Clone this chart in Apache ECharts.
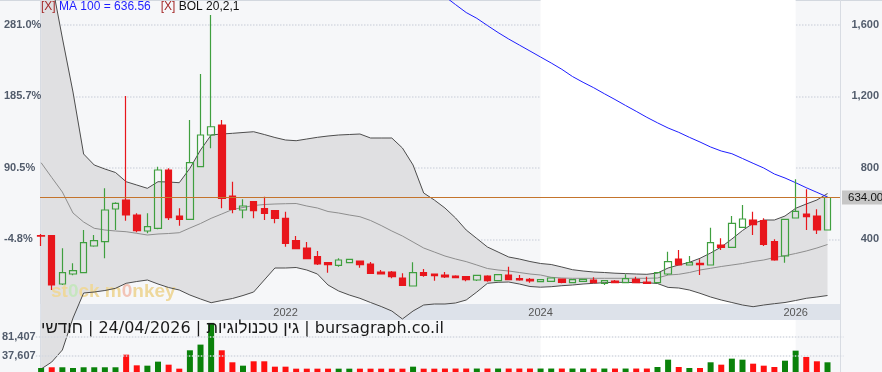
<!DOCTYPE html>
<html>
<head>
<meta charset="utf-8">
<script src="https://cdn.jsdelivr.net/npm/echarts@6/dist/echarts.min.js"></script>
<style>
html,body{margin:0;padding:0;background:#f6f7f9;}
#c{width:882px;height:372px;}
</style>
</head>
<body>
<div id="c"></div>
<script>
// ---------------- DATA ----------------
const FIRST_MONTH = [2020, 2]; // first monthly candle: Feb 2020
const OPEN = [420,420,149.5,205.5,212.8,362.3,386.4,569.5,619.9,535.9,446.3,461.4,787.9,530.3,511.8,806.4,983.9,1039.9,642.3,563.9,610.4,571.2,560,517.4,392,351.1,302.4,268.8,254.2,268.8,278.3,261.5,216.7,216.7,183.1,138.3,212.8,205.5,199.9,194.3,190.4,171.9,194.3,168,199.9,179.2,175.8,162.4,164.6,177.5,156.8,164.6,171.9,153.4,166.3,156.8,175.8,160.7,156.8,205.5,289.5,255.9,265.4,255.9,367.9,355,467,507.9,504,386.4,306.3,519.1,541.5,530.3,451.9];
const CLOSE = [418,144,212.8,224,380.8,392,563.9,601.4,535.9,448,470.4,787.9,520.8,511.8,828.8,983.9,1030.3,629.4,567.8,586.3,560,545.4,517.4,377.4,347.2,291.2,261.5,257.6,283.9,287.8,257.6,209.4,205.5,190.4,142.2,212.8,198.2,196,188.7,184.8,173.6,198.2,168,201.6,173.6,171.9,166.3,173.6,183.1,159,173.6,175.8,156.8,168,156.8,179.2,156.8,153.4,212.8,274.4,255.9,268.8,257.6,380.8,355,489.4,513.5,481.6,371.8,283.9,511.8,556.6,526.4,451.9,634];
const LOW = [362,116,143.9,198.2,212.8,358.4,293.4,451.9,504,439,433.4,455.8,507.9,476,511.8,806.4,909.4,573.4,545.4,517.4,517.4,507.9,489.4,358.4,347.2,287.8,255.9,212.8,246.4,266,240.8,209.4,205.5,181.4,142.2,138.3,190.4,168,183.1,181.4,164.6,166.3,162.4,164.6,171.9,168,156.8,161,163,153.4,155,163,153.4,143.9,153.4,155,153.4,153.4,155,199.9,255,255,199.9,255,339.9,355,465,423.9,362.3,280,268.8,517,451.9,429.5,451.9];
const HIGH = [429,422,349.4,265.4,451.9,423.9,685.4,607,1202.3,545.4,545.4,806.4,797.4,573.4,1067.9,1325.5,1655.8,1067.9,722.4,623.8,612,638.4,563.9,554.4,418.3,384.7,334.3,268.8,293.4,290,278.3,272.7,227.9,222.3,209.4,271,233.5,205.5,216.7,198.2,194.3,201.6,198.2,205.5,246.4,199.9,183.1,175,185,179,175,177,187,170,171.9,203.8,190.4,190.4,216.7,330.4,339.9,306.3,287.8,464.8,405.4,530.3,591.9,554.4,517.4,399.8,513,735.8,679.8,567.8,638.4];
const VOLUME = [9250,10900,10900,9300,10900,10900,10900,10900,40000,15400,14600,23900,16900,7700,50100,63200,113300,50100,22400,14600,24700,24700,12300,12300,7700,7700,7700,7700,7700,7700,7700,7700,7700,7700,7700,12300,7700,7700,8000,8000,8000,8000,8000,8000,8000,8000,8000,8000,8000,8000,8000,8000,8000,8000,8000,8000,8000,8000,11560,28450,11560,9250,9250,22400,16900,30800,28450,19200,14600,11560,26100,49250,34700,24700,22400];
const FIRST_VOLUME_UP = true; // first volume bar is drawn green in the source
const BOL_UPPER = [2076,1840.6,1527,1224.6,877.5,815.9,793.5,773.9,722.4,703.9,685.4,722.4,720.7,716.8,797.4,899.9,983.9,989.5,993.4,997.9,1002.3,986.7,969.9,955.9,952,961.5,971,978.3,983.9,986.7,989.5,967.1,967.1,967.1,911.1,815.9,659.1,619.9,575.1,519.1,451.9,404.3,356.7,328.7,300.7,289.5,275.5,264.3,258.7,244.7,229.6,222.3,216.7,213.9,210,207.8,205.5,203.8,211.1,239.1,255.9,271,293.4,323.1,356.7,401.5,449.1,489.4,507.9,507.9,530.3,573.4,597.5,619.9,656.3];
const BOL_MIDDLE = [828.8,745.9,664.7,547.1,496.7,461.4,451.9,446.3,442.4,433.4,423.9,429.5,432.3,436.8,463.1,488.3,517.4,541.5,566.7,577.9,589.1,594.7,597.5,599.2,600.3,586.3,575.1,555.5,547.1,535.9,526.4,505.1,477.1,446.3,418.3,384.7,351.1,328.7,306.3,289.5,274.9,255.9,236.3,227.9,222.3,213.9,205.5,199.9,187,183.1,181.4,181.4,181.4,181.4,181.4,181.4,181.4,181.4,183.1,199.9,203.8,213.9,227.9,237.4,247.5,255.9,264.3,275.5,283.9,297.9,308,320.3,334.3,351.1,370.7];
const BOL_LOWER = [-326.5,-287.3,-220.1,-40.9,99.1,104.7,113.1,125.4,153.4,163.5,171.9,149.5,129.9,115.9,87.9,65.5,44.8,57.1,68.3,85.1,104.7,171.9,239.1,239.1,241.9,227.9,205.5,143.9,110.3,87.9,69.4,45.9,23.5,-1.7,-46.5,-1.7,31.9,37.5,37.5,43.1,59.9,104.7,153.4,159,160.7,149.5,135.5,131.6,134.4,140,143.9,149.5,153.4,156.8,159,158.5,157.4,156.8,152.3,130.5,127.1,115.9,97.4,76.7,59.9,45.9,31.9,22.4,31.9,39.2,45.9,57.1,69.4,76.7,85.1];
const MA100_START = 38; // index of first MA value (earlier values are off the chart)
const MA100_VALUES = [1759.4,1714.1,1669.8,1637.4,1597.1,1557.8,1521.5,1487.8,1454.3,1420.6,1387.1,1351.8,1311.5,1279,1248.7,1215.1,1182.7,1149.1,1116.6,1083,1052.2,1023.1,999,971,944.7,916.7,894.3,879.2,852.3,825.4,799.1,765.5,743.1,716.8,688.8,663,636.56];
const PRICE_TICKS_INTERVAL = 400;
const PCT_BASE = 420;
const VOL_LABELS = [37607, 81407];
const YEAR_LABELS = ['2022-01', '2024-01', '2026-01'];
const SHADE_FROM = '2024-01', SHADE_TO = '2026-01';
const TITLE_PARTS = ['חודשי', '24/04/2026', 'גין טכנולוגיות', 'bursagraph.co.il'];
const BOL_NAME = 'BOL 20,2,1';

// ---------------- LAYOUT ----------------
const W = 882, H = 372;
const PLOT_L = 40, PLOT_R = 840;
const PRICE_MAX = 1740, PRICE_ZERO_Y = 310.7;
const PX = PRICE_ZERO_Y / PRICE_MAX;
const A_MIN = -(H - PRICE_ZERO_Y) / PX;
const CAT_W = 10.627, CAT_LEFT = 35.8;
const VOL_TOP = 320, VOL_MAX = 120000;
const BAND_TOP = 304, BAND_BOTTOM = 320;
const FONT = '"Liberation Sans", Arial, sans-serif';
const AXIS_COLOR = '#525c6c';

// ---------------- TABLES ----------------
const MONTHS = OPEN.map((_, i) => {
  const t = FIRST_MONTH[0] * 12 + (FIRST_MONTH[1] - 1) + i;
  return Math.floor(t / 12) + '-' + String(t % 12 + 1).padStart(2, '0');
});
const CATS = MONTHS.concat(['']);
const CANDLES = OPEN.map((o, i) => [o, CLOSE[i], LOW[i], HIGH[i]]);
const BOL_WIDTH = BOL_UPPER.map((u, i) => u - BOL_LOWER[i]);
const MA100 = MONTHS.map((_, i) => i < MA100_START ? null : MA100_VALUES[i - MA100_START]);
const MA_LAST = MA100_VALUES[MA100_VALUES.length - 1];
const LAST = CLOSE[CLOSE.length - 1];
const VOL_UP = CLOSE.map((c, i) => i === 0 ? FIRST_VOLUME_UP : c >= CLOSE[i - 1]);
const VOL_DATA = VOLUME.map((v, i) => ({ value: v, itemStyle: { color: VOL_UP[i] ? '#0a820a' : '#ff1010' } }));
const GRID_A_W = CATS.length * CAT_W;
const isHeb = s => /[\u0590-\u05FF]/.test(s);
const TITLE_RICH = TITLE_PARTS.map(p => '{' + (isHeb(p) ? 'h' : 'l') + '|' + p + '}').join('{l| | }');

const chart = echarts.init(document.getElementById('c'), null, { renderer: 'canvas', width: W, height: H });

const lineBase = { type: 'line', xAxisIndex: 0, yAxisIndex: 0, symbol: 'none', showSymbol: false, silent: true, animation: false };

chart.setOption({
  animation: false,
  backgroundColor: '#f6f7f9',
  textStyle: { fontFamily: FONT },
  grid: [
    { left: CAT_LEFT, top: 0, width: GRID_A_W, height: H, outerBoundsMode: 'none', containLabel: false },
    { left: PLOT_L, top: 0, width: PLOT_R - PLOT_L, height: PRICE_ZERO_Y, outerBoundsMode: 'none', containLabel: false },
    { left: CAT_LEFT, top: VOL_TOP, width: GRID_A_W, height: H - VOL_TOP, outerBoundsMode: 'none', containLabel: false }
  ],
  xAxis: [
    { gridIndex: 0, type: 'category', data: CATS, boundaryGap: true, show: false },
    { gridIndex: 1, type: 'value', min: 0, max: 1, show: false },
    { gridIndex: 2, type: 'category', data: CATS, boundaryGap: true, position: 'top', z: 3,
      axisLine: { show: false }, axisTick: { show: false }, splitLine: { show: false },
      axisLabel: { interval: (i, v) => YEAR_LABELS.includes(v), formatter: v => v.slice(0, 4),
        margin: 2, fontSize: 11, color: '#555', fontFamily: FONT } }
  ],
  yAxis: [
    { gridIndex: 0, type: 'value', min: A_MIN, max: PRICE_MAX, show: false },
    { gridIndex: 1, type: 'value', position: 'left', min: 0, max: PRICE_MAX, interval: PRICE_TICKS_INTERVAL, z: 1,
      axisLine: { show: false }, axisTick: { show: false },
      axisLabel: { formatter: v => ((v / PCT_BASE - 1) * 100).toFixed(1) + '%', showMinLabel: false, showMaxLabel: false,
        align: 'left', margin: 36, fontSize: 11, fontWeight: 'bold', color: AXIS_COLOR, fontFamily: FONT },
      splitLine: { show: true, showMinLine: false, showMaxLine: false, lineStyle: { color: '#d6dae2', width: 1.5, type: 'dotted' } } },
    { gridIndex: 1, type: 'value', position: 'right', min: 0, max: PRICE_MAX, interval: PRICE_TICKS_INTERVAL, z: 1,
      axisLine: { show: false }, axisTick: { show: false }, splitLine: { show: false },
      axisLabel: { formatter: v => v.toLocaleString('en-US'), showMinLabel: false, showMaxLabel: false,
        align: 'right', margin: 39, fontSize: 11, fontWeight: 'bold', color: AXIS_COLOR, fontFamily: FONT } },
    { gridIndex: 2, type: 'value', min: 0, max: VOL_MAX,
      axisLine: { show: false }, axisTick: { show: false }, splitLine: { show: false },
      axisLabel: { customValues: VOL_LABELS, formatter: v => v.toLocaleString('en-US'),
        align: 'left', margin: CAT_LEFT - 2, fontSize: 11, fontWeight: 'bold', color: AXIS_COLOR, fontFamily: FONT } }
  ],
  graphic: { elements: [
    { type: 'rect', silent: true, z: 1.5, shape: { x: PLOT_L, y: BAND_TOP, width: PLOT_R - PLOT_L, height: BAND_BOTTOM - BAND_TOP }, style: { fill: '#dde2ea' } },
    { type: 'line', silent: true, z: 1, shape: { x1: 0, y1: 0.5, x2: W, y2: 0.5 }, style: { stroke: '#d3d8df', lineWidth: 1 } },
    { type: 'line', silent: true, z: 1, shape: { x1: PLOT_L + 0.5, y1: 0, x2: PLOT_L + 0.5, y2: H }, style: { stroke: '#d8dce3', lineWidth: 1 } },
    { type: 'line', silent: true, z: 1, shape: { x1: PLOT_R + 0.5, y1: 0, x2: PLOT_R + 0.5, y2: H }, style: { stroke: '#d8dce3', lineWidth: 1 } },
    { type: 'text', silent: true, z: 2.1, x: 51, y: 292,
      style: { text: '{a|st}{g|0}{a|ck m}{p|0}{a|nkey}', verticalAlign: 'middle', font: 'bold 19px ' + FONT,
        rich: { a: { fill: '#eed89c', font: 'bold 19px ' + FONT },
                g: { fill: '#c6e6bf', font: 'bold 19px ' + FONT },
                p: { fill: '#f2c4b6', font: 'bold 19px ' + FONT } } } },
    { type: 'text', silent: true, z: 5, x: 41, y: 7,
      style: { text: '{x|[X]} {m|MA 100 = ' + MA_LAST.toFixed(2) + '}   {x|[X]} {b|' + BOL_NAME + '}', verticalAlign: 'middle', font: '12px ' + FONT,
        rich: { x: { fill: '#a52a2a', font: '12px ' + FONT }, m: { fill: '#1e1eff', font: '12px ' + FONT }, b: { fill: '#111', font: '12px ' + FONT } } } },
    { type: 'text', silent: true, z: 5, x: 41, y: 328.5,
      style: { text: TITLE_RICH, verticalAlign: 'middle', font: '16px "DejaVu Sans"', fill: '#1a1a1a',
        rich: { h: { fill: '#1a1a1a', font: '17px "Liberation Sans"', verticalAlign: 'middle' },
                l: { fill: '#1a1a1a', font: '16px "DejaVu Sans"', verticalAlign: 'middle' } } } }
  ] },
  series: [
    Object.assign({}, lineBase, { name: 'shade', data: [], z: 0,
      markArea: { silent: true, itemStyle: { color: '#ffffff' }, data: [[{ xAxis: SHADE_FROM }, { xAxis: SHADE_TO }]] } }),
    Object.assign({}, lineBase, { name: 'bolBase', data: BOL_LOWER, stack: 'bol', stackStrategy: 'all', z: 2,
      lineStyle: { opacity: 0, width: 0 } }),
    Object.assign({}, lineBase, { name: 'bolFill', data: BOL_WIDTH, stack: 'bol', stackStrategy: 'all', z: 2,
      lineStyle: { opacity: 0, width: 0 }, areaStyle: { color: '#e0e0e2', opacity: 1 } }),
    Object.assign({}, lineBase, { name: 'bolUpper', data: BOL_UPPER, z: 2.2, lineStyle: { color: '#4d4d4d', width: 1 } }),
    Object.assign({}, lineBase, { name: 'bolMiddle', data: BOL_MIDDLE, z: 2.2, lineStyle: { color: '#8e8e8e', width: 1 } }),
    Object.assign({}, lineBase, { name: 'bolLower', data: BOL_LOWER, z: 2.2, lineStyle: { color: '#4d4d4d', width: 1 } }),
    Object.assign({}, lineBase, { name: 'MA 100', data: MA100, z: 2.4, lineStyle: { color: '#1e1eff', width: 1 } }),
    { type: 'line', name: 'lastPrice', xAxisIndex: 1, yAxisIndex: 1, data: [], z: 2.5, silent: true,
      markLine: { silent: true, symbol: 'none', animation: false,
        lineStyle: { color: '#c4742c', width: 1, type: 'solid' },
        label: { show: true, position: 'end', distance: 2, formatter: () => LAST.toFixed(2),
          backgroundColor: '#c6c6c6', color: '#111', fontSize: 11.5, fontFamily: FONT, lineHeight: 14, padding: [0, 6, 0, 6] },
        data: [{ yAxis: LAST }] } },
    { type: 'candlestick', name: 'price', xAxisIndex: 0, yAxisIndex: 0, data: CANDLES, barWidth: 7, z: 3, silent: true,
      itemStyle: { color: 'rgba(0,0,0,0)', color0: '#e8161c', borderColor: '#3f9f3f', borderColor0: '#e8161c', borderWidth: 1.2 } },
    { type: 'line', name: 'volGrid', xAxisIndex: 2, yAxisIndex: 3, data: [], z: 1, silent: true,
      markLine: { silent: true, symbol: 'none', animation: false, label: { show: false },
        lineStyle: { color: '#d3d8e0', width: 1.5, type: 'dotted' },
        data: VOL_LABELS.map(v => ({ yAxis: v })) } },
    { type: 'bar', name: 'volume', xAxisIndex: 2, yAxisIndex: 3, data: VOL_DATA, barWidth: 6, z: 3, silent: true }
  ]
});
</script>
</body>
</html>
